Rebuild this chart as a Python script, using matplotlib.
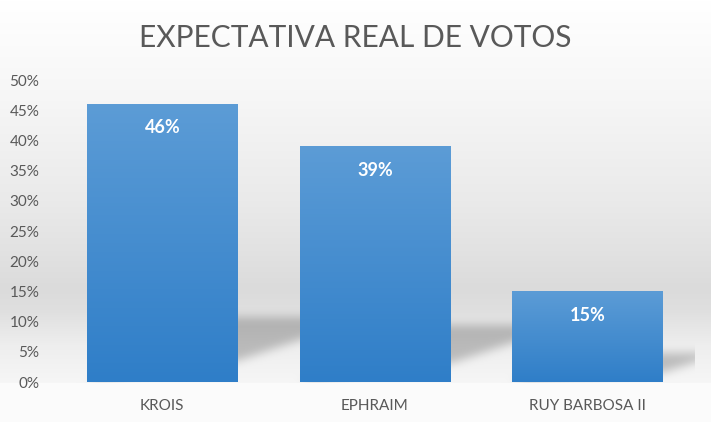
import matplotlib
matplotlib.use('Agg')
import matplotlib.pyplot as plt
import numpy as np
from matplotlib.path import Path as MPath
from matplotlib.ticker import FuncFormatter

# ── Data ──────────────────────────────────────────────────────────────────────
candidatos = ['KROIS', 'EPHRAIM', 'RUY BARBOSA II']
votos_pct  = [46, 39, 15]
y_ticks    = [0, 5, 10, 15, 20, 25, 30, 35, 40, 45, 50]
titulo     = 'EXPECTATIVA REAL DE VOTOS'

GRAY     = '#595959'
BAR_TOP  = np.array([92, 156, 214]) / 255
BAR_BOT  = np.array([47, 126, 200]) / 255
FONT     = 'Lato'

W, H, DPI = 711, 422, 100
fig = plt.figure(figsize=(W / DPI, H / DPI), dpi=DPI)
fig.patch.set_facecolor('white')

ax = fig.add_axes([56 / W, 1 - 382 / H, 638 / W, 302 / H])
ax.set_facecolor('none')
x = np.arange(len(candidatos))
width = 0.71
ax.set_xlim(-0.5, len(candidatos) - 0.5)
ax.set_ylim(0, 50)

# ── Background: soft grey band + floor shadows behind bars ───────────────────
rows = np.arange(H)
stops_y = [0, 45, 100, 200, 250, 288, 310, 345, 382, 383, 422]
stops_g = [255, 251, 246, 234, 226, 219, 223, 238, 246, 251, 251]
bg = np.tile(np.interp(rows, stops_y, stops_g)[:, None], (1, W)) / 255.0

yy, xx = np.mgrid[0:H, 0:W]
pts = np.column_stack([xx.ravel() + 0.5, (H - yy.ravel()) - 0.5])
shadow = np.zeros(H * W)
for xi, v in zip(x, votos_pct):
    sh = 2 + 0.19 * v
    left, right = xi - width / 2, xi + width / 2
    dx = 0.057 * sh
    poly = np.array([(left, 0), (right, 0.33 * sh), (right + dx, sh),
                     (left + dx, sh)])
    poly_px = ax.transData.transform(poly)
    shadow = np.maximum(shadow, MPath(poly_px).contains_points(pts))
shadow = shadow.reshape(H, W).astype(float)


def box_blur(a, r):
    k = np.ones(2 * r + 1) / (2 * r + 1)
    a = np.apply_along_axis(lambda m: np.convolve(m, k, mode='same'), 0, a)
    return np.apply_along_axis(lambda m: np.convolve(m, k, mode='same'), 1, a)


for _ in range(3):
    shadow = box_blur(shadow, 4)
shadow[383:, :] = 0
shadow[:, 695:] = 0
bg = bg * (1 - 0.22 * shadow)

bg_ax = fig.add_axes([0, 0, 1, 1], zorder=-1)
bg_ax.imshow(np.dstack([bg] * 3), aspect='auto', extent=(0, 1, 0, 1),
             interpolation='nearest')
bg_ax.axis('off')

# ── Bars with vertical gradient ───────────────────────────────────────────────
grad = np.linspace(0, 1, 256)[:, None]
grad_img = BAR_BOT[None, None, :] * (1 - grad[..., None]) + BAR_TOP[None, None, :] * grad[..., None]
grad_img = grad_img[::-1]
bars = ax.bar(x, votos_pct, width, color='none', edgecolor='none', zorder=3)
for b, v in zip(bars, votos_pct):
    im = ax.imshow(grad_img, aspect='auto', zorder=3,
                   extent=(b.get_x(), b.get_x() + b.get_width(), 0, v),
                   interpolation='bilinear')
    im.set_clip_path(b)
    ax.annotate(f'{v}%', (b.get_x() + b.get_width() / 2, v),
                xytext=(0, -11), textcoords='offset points',
                ha='center', va='top', color='white', fontsize=13,
                fontweight='bold', family=FONT, zorder=4)
ax.set_xlim(-0.5, len(candidatos) - 0.5)
ax.set_ylim(0, 50)

# ── Axes styling ──────────────────────────────────────────────────────────────
ax.set_xticks(x)
ax.set_xticklabels(candidatos, fontsize=11, color=GRAY, family=FONT)
ax.set_yticks(y_ticks)
ax.yaxis.set_major_formatter(FuncFormatter(lambda v, _: f'{v:.0f}%'))
for lab in ax.get_yticklabels():
    lab.set_family(FONT)
ax.tick_params(axis='y', labelsize=11, labelcolor=GRAY, length=0, pad=12)
ax.tick_params(axis='x', length=0, pad=12)
for s in ax.spines.values():
    s.set_visible(False)

fig.text(0.5, 1 - 47 / H, titulo, ha='center', va='baseline',
         fontsize=21.5, color=GRAY, family=FONT)

fig.savefig('out.png', dpi=DPI)
